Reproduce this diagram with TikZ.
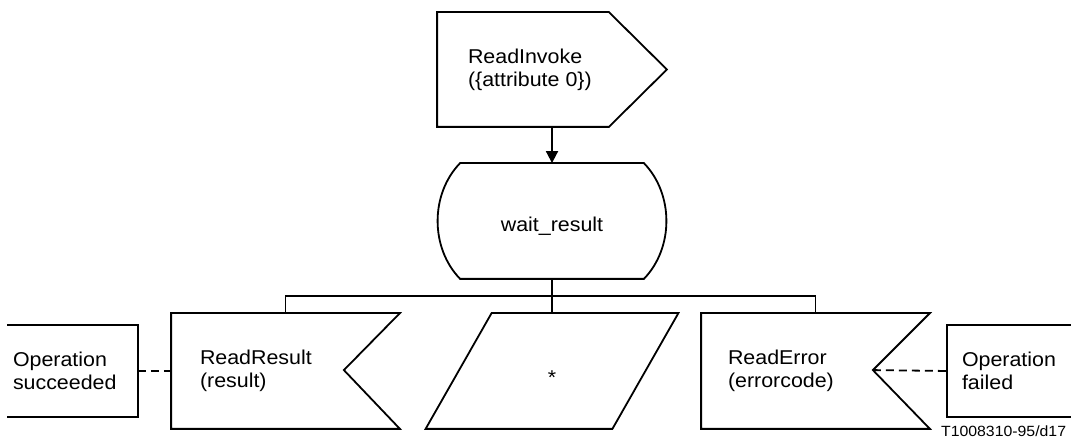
\documentclass[tikz,border=0pt]{standalone}
\usepackage{fontspec}
\setmainfont{Liberation Sans}[FakeStretch=1.07]
\usetikzlibrary{positioning,arrows.meta,calc}
\begin{document}
\begin{tikzpicture}[x=0.5pt,y=-0.5pt,line width=0.9pt,
	box/.style={minimum width=#1,minimum height=57pt,inner sep=0pt},
	txt/.style={align=left,inner sep=0pt,font=\fontsize{10}{11.5}\selectfont},
	flow/.style={-{Triangle[length=6pt,width=6pt]}},
	dashline/.style={dash pattern=on 4pt off 2.5pt}]
	\useasboundingbox (0,0) rectangle (1072,442);
	% shapes
	\node[box=85pt,minimum height=56.5pt] (invoke) at (523,69.5) {};
	\node[box=114pt,txt,text height=11pt,text depth=0pt] (state) at (552,221) {wait\_result};
	\node[box=113.5pt] (result) at (285.5,371) {};
	\node[box=92.5pt,txt,text height=13.4pt,text depth=0pt] (any) at (552,371) {*};
	\node[box=113.5pt] (error) at (815.5,371) {};
	\node[box=64.5pt,minimum height=45pt] (succ) at (72.5,371) {};
	\node[box=61pt,minimum height=45pt] (fail) at (1009,371) {};
	\draw (invoke.north west) -- (invoke.north east) -- ($(invoke.east)+(58,0)$) -- (invoke.south east) -- (invoke.south west) -- cycle;
	\draw ($(state.north west)+(23,0)$) -- ($(state.north east)+(-23,0)$)
		.. controls ($(state.north east)+(7,31)$) and ($(state.south east)+(7,-31)$) .. ($(state.south east)+(-23,0)$)
		-- ($(state.south west)+(23,0)$)
		.. controls ($(state.south west)+(-7,-31)$) and ($(state.north west)+(-7,31)$) .. cycle;
	\draw (result.north west) -- (result.north east) -- ++(-56,57) coordinate (resnotch) -- (result.south east) -- (result.south west) -- cycle;
	\draw ($(any.north west)+(33,0)$) -- ($(any.north east)+(33,0)$) -- ($(any.south east)+(-33,0)$) -- ($(any.south west)+(-33,0)$) -- cycle;
	\draw (error.north west) -- (error.north east) -- ++(-57,57) coordinate (errnotch) -- (error.south east) -- (error.south west) -- cycle;
	\draw (succ.north west) -- (succ.north east) -- (succ.south east) -- (succ.south west);
	\draw (fail.north east) -- (fail.north west) -- (fail.south west) -- (fail.south east);
	% texts
	\node[txt,right=15pt of invoke.west] (invoketext) {ReadInvoke\\(\{attribute 0\})};
	\node[txt,right=14pt of result.west] (resulttext) {ReadResult\\(result)};
	\node[txt,right=13pt of error.west] (errortext) {ReadError\\(errorcode)};
	\node[txt,right=2.5pt of succ.west] (succtext) {Operation\\succeeded};
	\node[txt,right=7pt of fail.west] (failtext) {Operation\\failed};
	\node[txt,anchor=base east,font=\fontsize{7.4}{9}\selectfont] (tag) at (1067,437) {T1008310-95/d17};
	% connectors
	\draw[flow] (invoke.south -| state.north) -- (state.north);
	\draw (state.south) -- (any.north);
	\draw (result.north) -- ++(0,-17) -| (error.north);
	\draw[dashline] (succ.east) -- (result.west);
	\draw[dashline] (errnotch) -- (fail.west);
\end{tikzpicture}
\end{document}
